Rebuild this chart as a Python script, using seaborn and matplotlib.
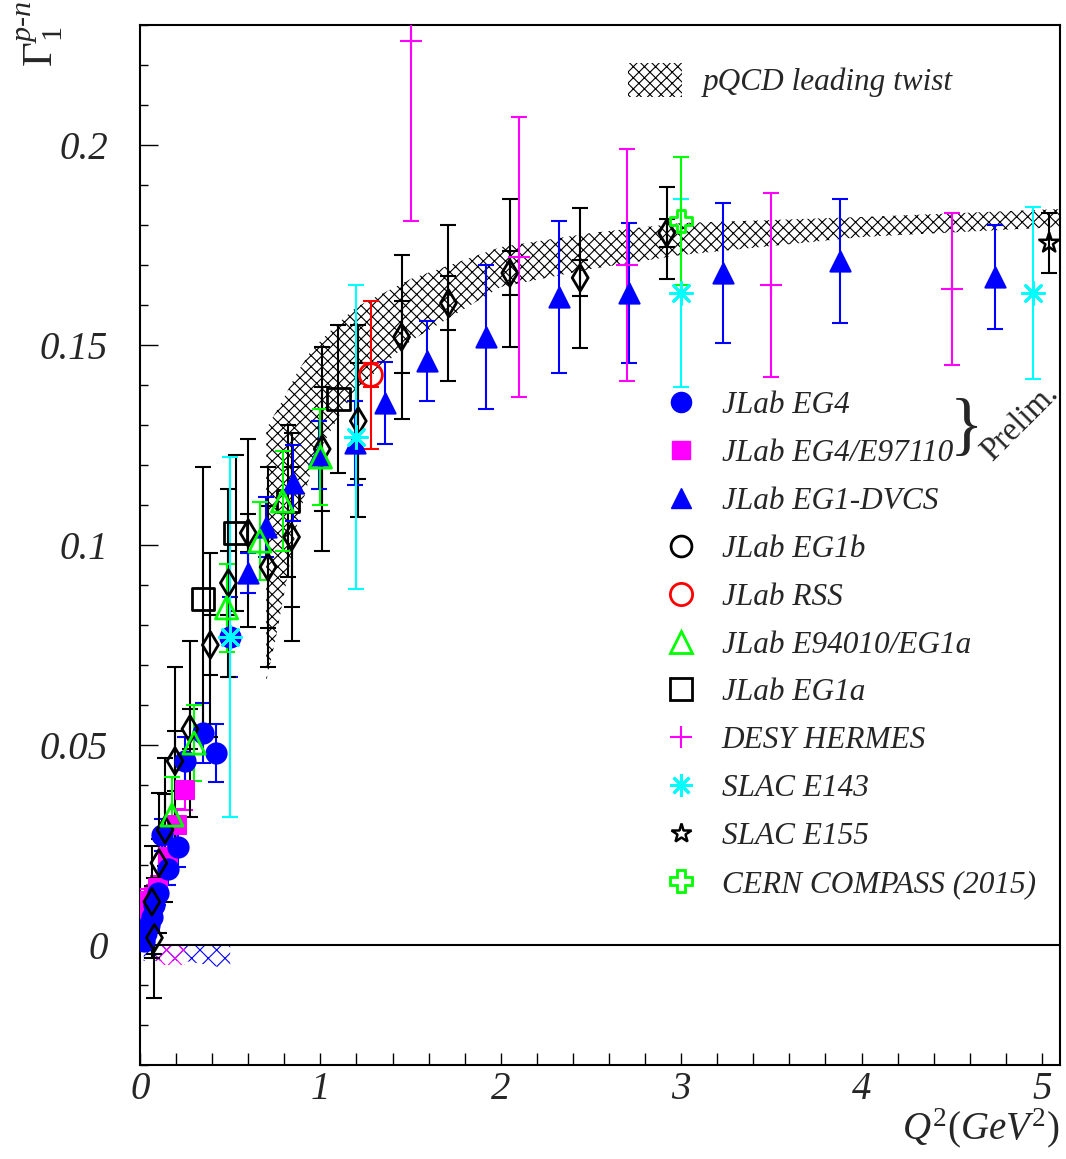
import numpy as np
import pandas as pd
import seaborn as sns
import matplotlib.pyplot as plt
from matplotlib.lines import Line2D
from matplotlib.patches import Patch
from matplotlib.ticker import MultipleLocator, FuncFormatter

# ---- data ----
eg4_q2 = [0.02, 0.035, 0.05, 0.065, 0.08, 0.10, 0.12, 0.155, 0.21, 0.25, 0.35, 0.42, 0.50]
eg4_g = [0.001, 0.003, 0.005, 0.007, 0.010, 0.013, 0.0275, 0.019, 0.0245, 0.046, 0.053, 0.048, 0.077]
eg4_err = [0.002, 0.002, 0.002, 0.0025, 0.003, 0.003, 0.004, 0.004, 0.005, 0.006, 0.0075, 0.0073, 0.010]

e97_q2 = [0.02, 0.035, 0.055, 0.08, 0.10, 0.155, 0.205, 0.25]
e97_g = [0.008, 0.011, 0.0095, 0.012, 0.0143, 0.022, 0.030, 0.0388]
e97_err = [0.003, 0.003, 0.003, 0.003, 0.003, 0.004, 0.004, 0.005]

dvcs_q2 = [0.60, 0.70, 0.85, 0.99, 1.19, 1.36, 1.59, 1.92, 2.32, 2.71, 3.23, 3.88, 4.74]
dvcs_g = [0.093, 0.1045, 0.1155, 0.1225, 0.1255, 0.1355, 0.146, 0.152, 0.162, 0.163, 0.168, 0.171, 0.167]
dvcs_err = [0.005, 0.0075, 0.0095, 0.0085, 0.0105, 0.0103, 0.010, 0.018, 0.019, 0.0175, 0.0175, 0.0155, 0.013]

eg1b_q2 = [0.08, 0.066, 0.105, 0.139, 0.194, 0.277, 0.39, 0.49, 0.60, 0.71, 0.84, 1.01, 1.21, 1.45, 1.71, 2.05, 2.44, 2.92]
eg1b_g = [0.0018, 0.0108, 0.0205, 0.0288, 0.046, 0.054, 0.075, 0.0905, 0.103, 0.0945, 0.102, 0.124, 0.131, 0.152, 0.1605, 0.168, 0.1668, 0.178]
eg1b_tot = [0.015, 0.014, 0.0175, 0.018, 0.0235, 0.022, 0.023, 0.0235, 0.0235, 0.025, 0.026, 0.0255, 0.024, 0.0205, 0.0195, 0.0185, 0.0175, 0.0115]
eg1b_stat = [0.004, 0.004, 0.006, 0.009, 0.0075, 0.005, 0.0075, 0.008, 0.0048, 0.0153, 0.0175, 0.0155, 0.0145, 0.009, 0.0068, 0.0055, 0.0045, 0.0035]

rss_q2 = [1.28]
rss_g = [0.1425]
rss_err = [0.0185]
rss_stat = [0.003]

e94_q2 = [0.177, 0.30, 0.48, 0.665, 0.79, 1.0]
e94_g = [0.0325, 0.0505, 0.0843, 0.101, 0.111, 0.122]
e94_err = [0.0095, 0.0095, 0.011, 0.0097, 0.0125, 0.012]

eg1a_q2 = [0.35, 0.53, 0.82, 1.10]
eg1a_g = [0.0865, 0.103, 0.111, 0.1365]
eg1a_err = [0.033, 0.0195, 0.019, 0.0185]

hermes_q2 = [1.5, 2.1, 2.7, 3.5, 4.5]
hermes_g = [0.226, 0.172, 0.170, 0.165, 0.164]
hermes_err = [0.045, 0.035, 0.029, 0.023, 0.019]

e143_q2 = [0.5, 1.2, 3.0, 4.95]
e143_g = [0.077, 0.127, 0.163, 0.163]
e143_err = [0.045, 0.038, 0.0235, 0.0215]

e155_q2 = [5.04]
e155_g = [0.1755]
e155_err = [0.0075]

compass_q2 = [3.0]
compass_g = [0.181]
compass_err = [0.016]

# pQCD leading twist band
band_q2 = [0.70, 0.75, 0.80, 0.87, 0.94, 1.0, 1.1, 1.2, 1.5, 2.0, 2.5, 3.0, 4.0, 5.1]
band_hi = [0.129, 0.133, 0.137, 0.143, 0.148, 0.151, 0.1555, 0.1595, 0.1665, 0.1745, 0.178, 0.1805, 0.182, 0.184]
band_lo = [0.066, 0.076, 0.088, 0.105, 0.117, 0.124, 0.132, 0.139, 0.151, 0.1645, 0.169, 0.1725, 0.177, 0.1795]

# EG4 systematic bands below zero
sysb_q2 = [0.02, 0.25, 0.5]
sysb_lo = [-0.004, -0.004, -0.006]
sysm_q2 = [0.09, 0.25]
sysm_lo = [-0.005, -0.005]

legend_labels = ['JLab EG4', 'JLab EG4/E97110', 'JLab EG1-DVCS', 'JLab EG1b', 'JLab RSS',
                 'JLab E94010/EG1a', 'JLab EG1a', 'DESY HERMES', 'SLAC E143', 'SLAC E155',
                 'CERN COMPASS (2015)']

BLUE, MAG, CYAN, GREEN, RED = '#0000ff', '#ff00ff', '#00ffff', '#00ff00', '#ff0000'
AST = (8, 2, 0)

sns.set_style("ticks")
plt.rcParams['font.family'] = ['Liberation Serif', 'DejaVu Serif']
plt.rcParams['font.style'] = 'italic'
plt.rcParams['mathtext.fontset'] = 'custom'
plt.rcParams['mathtext.rm'] = 'Liberation Serif:style=normal'
plt.rcParams['mathtext.it'] = 'Liberation Serif:italic'
plt.rcParams['hatch.linewidth'] = 0.8

fig = plt.figure(figsize=(10.66, 11.59), dpi=100)
ax = fig.add_axes([140 / 1066, 1 - 1065 / 1159, 920 / 1066, 1040 / 1159])

ax.fill_between(band_q2, band_lo, band_hi, facecolor='none', edgecolor='black',
                hatch='xxx', linewidth=0, zorder=2)
ax.fill_between(sysb_q2, sysb_lo, 0, facecolor='none', edgecolor=BLUE,
                hatch='xx', linewidth=0, zorder=2)
ax.fill_between(sysm_q2, sysm_lo, 0, facecolor='none', edgecolor=MAG,
                hatch='xx', linewidth=0, zorder=2)
ax.axhline(0, color='black', lw=1.5, zorder=2.5)


def draw(q2, g, err, marker, color, ms, filled=True, mew=1.5, z=3, stat=None):
    ax.errorbar(q2, g, yerr=err, fmt='none', ecolor=color, elinewidth=1.5,
                capsize=6, capthick=1.5, zorder=z)
    if stat is not None:
        ax.errorbar(q2, g, yerr=stat, fmt='none', ecolor=color, elinewidth=1.5,
                    capsize=6, capthick=1.5, zorder=z)
    df = pd.DataFrame({'q2': q2, 'g': g})
    sns.scatterplot(data=df, x='q2', y='g', ax=ax, marker=marker, s=ms ** 2,
                    color=color, facecolor=color if filled else 'none',
                    edgecolor=color, linewidth=mew, zorder=z + 0.5, legend=False)


draw(e97_q2, e97_g, e97_err, 's', MAG, 13)
draw(eg4_q2, eg4_g, eg4_err, 'o', BLUE, 14.5)
draw(eg1a_q2, eg1a_g, eg1a_err, 's', 'black', 16, filled=False, mew=2)
draw(eg1b_q2, eg1b_g, eg1b_tot, 'd', 'black', 13.5, filled=False, mew=2, stat=eg1b_stat)
draw(dvcs_q2, dvcs_g, dvcs_err, '^', BLUE, 14.5)
draw(e94_q2, e94_g, e94_err, '^', GREEN, 16, filled=False, mew=2)
draw(rss_q2, rss_g, rss_err, 'o', RED, 16.5, filled=False, mew=2, stat=rss_stat)
draw(hermes_q2, hermes_g, hermes_err, '+', MAG, 16)
draw(e143_q2, e143_g, e143_err, AST, CYAN, 16, mew=2)
draw(e155_q2, e155_g, e155_err, '*', 'black', 15, filled=False, mew=1.8)
draw(compass_q2, compass_g, compass_err, 'P', GREEN, 16, filled=False, mew=2)

ax.set_xlim(0, 5.1)
ax.set_ylim(-0.03, 0.23)
ax.xaxis.set_major_locator(MultipleLocator(1))
ax.xaxis.set_minor_locator(MultipleLocator(0.2))
ax.yaxis.set_major_locator(MultipleLocator(0.05))
ax.yaxis.set_minor_locator(MultipleLocator(0.01))
ax.yaxis.set_major_formatter(FuncFormatter(lambda v, p: '%g' % round(v, 3)))
ax.tick_params(which='both', direction='in', top=False, right=False, color='black')
ax.tick_params(axis='y', which='major', length=13, width=1, labelsize=28, pad=23)
ax.tick_params(axis='y', which='minor', length=6, width=1)
ax.tick_params(axis='x', which='both', length=9, width=1, labelsize=28, pad=4)
for sp in ax.spines.values():
    sp.set_linewidth(1.5)
    sp.set_color('black')

ax.set_ylabel('')
ax.set_xlabel(r'$Q^{2}(GeV^{2})$', fontsize=28, loc='right')
ax.xaxis.set_label_coords(0.999, -0.04)
fig.text(16 / 1066, 1 - 1 / 1159, r'$\Gamma_{\mathit{1}}^{p\text{-}n}$', rotation=90,
         fontsize=31, ha='left', va='top')

# legends
fs = 22.5
band_handle = Patch(facecolor='none', edgecolor='black', hatch='xxx', linewidth=0)
leg1 = ax.legend([band_handle], ['pQCD leading twist'], loc='upper left',
                 bbox_to_anchor=(628 / 1066, 1 - 63 / 1159), bbox_transform=fig.transFigure,
                 frameon=False, fontsize=fs, handlelength=1.73, handleheight=1.28,
                 handletextpad=0.67, borderpad=0, borderaxespad=0)
ax.add_artist(leg1)

handles = [
    Line2D([], [], ls='none', marker='o', ms=14.5, mfc=BLUE, mec=BLUE),
    Line2D([], [], ls='none', marker='s', ms=13, mfc=MAG, mec=MAG),
    Line2D([], [], ls='none', marker='^', ms=14.5, mfc=BLUE, mec=BLUE),
    Line2D([], [], ls='none', marker='o', ms=15, mfc='none', mec='black', mew=2),
    Line2D([], [], ls='none', marker='o', ms=16, mfc='none', mec=RED, mew=2),
    Line2D([], [], ls='none', marker='^', ms=16, mfc='none', mec=GREEN, mew=2),
    Line2D([], [], ls='none', marker='s', ms=16, mfc='none', mec='black', mew=2),
    Line2D([], [], ls='none', marker='+', ms=16, mec=MAG, mew=1.5),
    Line2D([], [], ls='none', marker=AST, ms=16, mec=CYAN, mew=2),
    Line2D([], [], ls='none', marker='*', ms=15, mfc='none', mec='black', mew=1.8),
    Line2D([], [], ls='none', marker='P', ms=16, mfc='none', mec=GREEN, mew=2),
]
ax.legend(handles, legend_labels, loc='upper left',
          bbox_to_anchor=(665 / 1066, 1 - 391 / 1159), bbox_transform=fig.transFigure,
          frameon=False, fontsize=fs, handlelength=1.0, handletextpad=0.81,
          labelspacing=0.605, borderpad=0, borderaxespad=0)

fig.text(966 / 1066, 1 - 430 / 1159, '}', fontsize=50, fontstyle='normal',
         ha='center', va='center')
fig.text(1020 / 1066, 1 - 423 / 1159, 'Prelim.', fontsize=23.5, fontstyle='normal',
         rotation=45, ha='center', va='center')

fig.savefig('out.png', dpi=100)
